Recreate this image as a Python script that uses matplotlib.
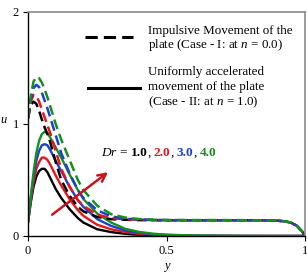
import matplotlib
matplotlib.use("Agg")
import matplotlib.pyplot as plt

plt.rcParams['font.family'] = ['Liberation Serif', 'DejaVu Serif']
plt.rcParams['mathtext.fontset'] = 'custom'
plt.rcParams['mathtext.rm'] = 'Liberation Serif'
plt.rcParams['mathtext.it'] = 'Liberation Serif:italic'
plt.rcParams['mathtext.bf'] = 'Liberation Serif:bold'

# ---- data ----
y_pos = [0.0, 0.01, 0.02, 0.03, 0.04, 0.05, 0.06, 0.07, 0.08, 0.10, 0.12, 0.15,
         0.18, 0.20, 0.25, 0.30, 0.35, 0.40, 0.45, 0.50, 0.60, 0.70, 0.80, 0.85,
         0.90, 0.93, 0.95, 0.97, 0.99, 1.00]

# Case I (impulsive, n = 0.0) - dashed
case1_dr1 = [1.05, 1.17, 1.20, 1.18, 1.12, 1.04, 0.97, 0.91, 0.84, 0.66, 0.50, 0.36,
             0.26, 0.22, 0.17, 0.150, 0.145, 0.142, 0.141, 0.140, 0.140, 0.140, 0.140, 0.140,
             0.137, 0.130, 0.118, 0.092, 0.040, 0.0]
case1_dr2 = [1.05, 1.20, 1.26, 1.25, 1.20, 1.13, 1.06, 0.99, 0.92, 0.76, 0.60, 0.44,
             0.32, 0.27, 0.19, 0.160, 0.150, 0.145, 0.142, 0.141, 0.140, 0.140, 0.140, 0.140,
             0.137, 0.130, 0.118, 0.092, 0.040, 0.0]
case1_dr3 = [1.05, 1.22, 1.32, 1.35, 1.33, 1.28, 1.21, 1.14, 1.06, 0.90, 0.74, 0.56,
             0.41, 0.34, 0.23, 0.175, 0.155, 0.148, 0.144, 0.142, 0.141, 0.141, 0.141, 0.140,
             0.137, 0.130, 0.118, 0.092, 0.040, 0.0]
case1_dr4 = [1.05, 1.25, 1.38, 1.42, 1.41, 1.37, 1.31, 1.24, 1.16, 1.00, 0.86, 0.68,
             0.50, 0.41, 0.27, 0.195, 0.165, 0.152, 0.146, 0.143, 0.142, 0.142, 0.141, 0.141,
             0.138, 0.131, 0.119, 0.093, 0.040, 0.0]

# Case II (uniformly accelerated, n = 1.0) - solid
case2_dr1 = [0.12, 0.30, 0.44, 0.53, 0.58, 0.60, 0.60, 0.57, 0.52, 0.42, 0.34, 0.24,
             0.16, 0.12, 0.06, 0.035, 0.020, 0.010, 0.005, 0.003, 0.001, 0.0, 0.0, 0.0,
             0.0, 0.0, 0.0, 0.0, 0.0, 0.0]
case2_dr2 = [0.12, 0.32, 0.48, 0.60, 0.66, 0.70, 0.70, 0.68, 0.64, 0.54, 0.45, 0.33,
             0.23, 0.18, 0.10, 0.060, 0.035, 0.020, 0.011, 0.006, 0.002, 0.001, 0.0, 0.0,
             0.0, 0.0, 0.0, 0.0, 0.0, 0.0]
case2_dr3 = [0.12, 0.34, 0.53, 0.67, 0.76, 0.81, 0.82, 0.81, 0.77, 0.67, 0.58, 0.44,
             0.32, 0.26, 0.15, 0.090, 0.050, 0.028, 0.016, 0.009, 0.003, 0.001, 0.0, 0.0,
             0.0, 0.0, 0.0, 0.0, 0.0, 0.0]
case2_dr4 = [0.12, 0.35, 0.57, 0.74, 0.85, 0.91, 0.93, 0.92, 0.88, 0.79, 0.70, 0.55,
             0.41, 0.33, 0.20, 0.120, 0.065, 0.037, 0.021, 0.012, 0.004, 0.002, 0.001, 0.0,
             0.0, 0.0, 0.0, 0.0, 0.0, 0.0]

dr_labels = ['1.0', '2.0', '3.0', '4.0']
colors = ['#000000', '#e8151b', '#1f3fd0', '#14901e']
x_ticks = [0, 0.5, 1]
x_ticklabels = ['0', '0.5', '1']
y_ticks = [0, 1, 2]
y_ticklabels = ['0', '1', '2']

# ---- figure ----
fig = plt.figure(figsize=(3.07, 2.78), dpi=100)
ax = fig.add_axes([28/307, 42/278, 277/307, 224/278])

case1 = [case1_dr1, case1_dr2, case1_dr3, case1_dr4]
case2 = [case2_dr1, case2_dr2, case2_dr3, case2_dr4]
for vals, c in zip(case2, colors):
    ax.plot(y_pos, vals, color=c, lw=1.7, solid_capstyle='butt')
for vals, c in zip(case1, colors):
    ax.plot(y_pos, vals, color=c, lw=1.8, dashes=(4, 2))

ax.set_xlim(0, 1)
ax.set_ylim(0, 2)
ax.set_xticks(x_ticks)
ax.set_xticklabels(x_ticklabels)
ax.set_yticks(y_ticks)
ax.set_yticklabels(y_ticklabels)
ax.tick_params(direction='out', length=3.5, width=0.8, labelsize=9, colors='black', pad=3)
for s in ['left', 'bottom']:
    ax.spines[s].set_color('black')
    ax.spines[s].set_linewidth(1.0)
for s in ['top', 'right']:
    ax.spines[s].set_color('#8a8a8a')
    ax.spines[s].set_linewidth(1.2)

ax.set_xlabel('y', fontsize=9, fontstyle='italic', labelpad=2)
fig.text(0.5/307, 1 - 120/278, 'u', fontsize=9, fontstyle='italic', ha='left', va='center')

# legend (manual)
ax.plot([0.206, 0.379], [1.777, 1.777], color='black', lw=2.2, dashes=(4, 2))
ax.plot([0.217, 0.404], [1.32, 1.32], color='black', lw=2.2)
leg_fs = 9.4
ax.text(0.433, 1.83, 'Impulsive Movement of the', fontsize=leg_fs, va='center')
ax.text(0.433, 1.705, 'plate (Case - I: at $n$ = 0.0)', fontsize=leg_fs, va='center')
ax.text(0.433, 1.464, 'Uniformly accelerated', fontsize=leg_fs, va='center')
ax.text(0.433, 1.33, 'movement of the plate', fontsize=leg_fs, va='center')
ax.text(0.433, 1.19, '(Case - II: at $n$ = 1.0)', fontsize=leg_fs, va='center')

# arrow
ax.annotate('', xy=(0.289, 0.57), xytext=(0.087, 0.19),
            arrowprops=dict(arrowstyle='->', color='#c8141a', lw=1.8,
                            mutation_scale=14, shrinkA=0, shrinkB=0))

# Dr label with colored values
fig.canvas.draw()
renderer = fig.canvas.get_renderer()
pieces = [('$Dr$ =', 'black', 'normal', 3.0)]
for i, (lab, c) in enumerate(zip(dr_labels, colors)):
    pieces.append((lab, c, 'bold', 0.0))
    if i < len(dr_labels) - 1:
        pieces.append((',', 'black', 'normal', 3.0))
x0_px, y0_px = ax.transData.transform((0.262, 0.74))
cur = x0_px
for txt, c, w, gap in pieces:
    t = fig.text(cur / fig.bbox.width, y0_px / fig.bbox.height, txt, color=c,
                 fontweight=w, fontsize=9.6, va='center', ha='left')
    bb = t.get_window_extent(renderer=renderer)
    cur = bb.x1 + gap

fig.savefig('out.png', dpi=100)
